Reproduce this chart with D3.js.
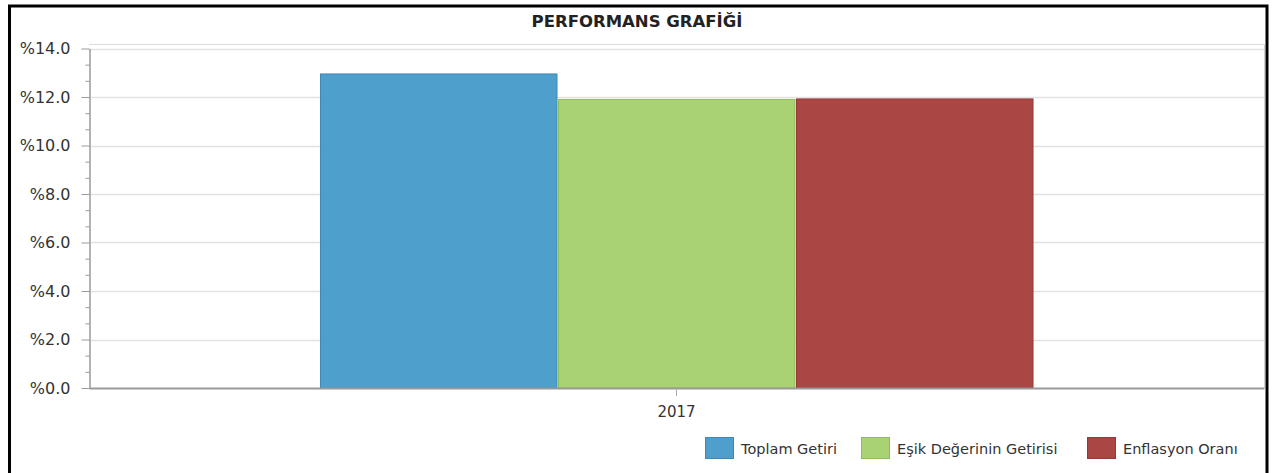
<!DOCTYPE html>
<html>
<head>
<meta charset="utf-8">
<script src="https://cdn.jsdelivr.net/npm/d3@7"></script>
<style>
  html, body { margin: 0; padding: 0; background: #fff; }
  svg { display: block; }
  text { font-family: "DejaVu Sans", Verdana, sans-serif; }
</style>
</head>
<body>
<svg id="chart" width="1279" height="473"></svg>
<script>
const title = "PERFORMANS GRAFİĞİ";
const categories = ["2017"];
const seriesNames = ["Toplam Getiri", "Eşik Değerinin Getirisi", "Enflasyon Oranı"];
const seriesColors = ["#4e9fcb", "#a9d273", "#aa4643"];
const seriesStrokes = ["#3f88b4", "#8fbb5c", "#933a37"];
const toplamGetiri = [12.95];
const esikDegeri = [11.90];
const enflasyon = [11.92];
const yTicks = [0, 2, 4, 6, 8, 10, 12, 14];

const series = [toplamGetiri, esikDegeri, enflasyon];

const svg = d3.select("#chart");
const plot = { left: 89, right: 1264, top: 44.5, bottom: 388 };

// outer frame
svg.append("rect")
  .attr("x", 9.5).attr("y", 6).attr("width", 1257.5).attr("height", 500)
  .attr("fill", "none").attr("stroke", "#000").attr("stroke-width", 3);

// title
svg.append("text")
  .attr("x", 637).attr("y", 27)
  .attr("text-anchor", "middle")
  .attr("font-size", 16.5).attr("font-weight", "bold")
  .attr("fill", "#222")
  .text(title);

const y = d3.scaleLinear().domain([0, 14]).range([plot.bottom, 48.5]);
const x0 = d3.scaleBand().domain(categories).range([plot.left, plot.right])
  .paddingInner(0).paddingOuter(0.3228);
const x1 = d3.scaleBand().domain(seriesNames).range([0, x0.bandwidth()]).padding(0);

// plot border top and right
svg.append("line").attr("x1", plot.left).attr("x2", plot.right)
  .attr("y1", plot.top).attr("y2", plot.top)
  .attr("stroke", "#dcdcdc").attr("stroke-width", 1);
svg.append("line").attr("x1", plot.right + 0.5).attr("x2", plot.right + 0.5)
  .attr("y1", plot.top).attr("y2", plot.bottom)
  .attr("stroke", "#cfcfcf").attr("stroke-width", 1);

// gridlines
svg.append("g").selectAll("line").data(yTicks.filter(d => d > 0)).join("line")
  .attr("x1", plot.left).attr("x2", plot.right)
  .attr("y1", d => Math.round(y(d)) + 0.5).attr("y2", d => Math.round(y(d)) + 0.5)
  .attr("stroke", "#e2e2e2").attr("stroke-width", 1.5);

// y axis with minor ticks
const minor = [];
for (let i = 0; i < yTicks.length - 1; i++) {
  const a = yTicks[i], b = yTicks[i + 1];
  minor.push(a + (b - a) / 3, a + 2 * (b - a) / 3);
}
const yAxis = d3.axisLeft(y).tickValues(yTicks).tickSize(8).tickSizeOuter(0).tickPadding(11)
  .tickFormat(d => "%" + d.toFixed(1));
const gy = svg.append("g").attr("transform", `translate(${plot.left + 0.5},0)`).call(yAxis);
gy.select(".domain").attr("stroke", "#9a9a9a").attr("stroke-width", 1.5);
gy.selectAll(".tick line").attr("stroke", "#9a9a9a");
gy.selectAll(".tick text").attr("font-size", 16).attr("fill", "#333")
  .attr("font-family", "DejaVu Sans, sans-serif");
const gyMinor = svg.append("g").attr("transform", `translate(${plot.left + 0.5},0)`)
  .call(d3.axisLeft(y).tickValues(minor).tickSize(4).tickSizeOuter(0).tickFormat(""));
gyMinor.select(".domain").remove();
gyMinor.selectAll(".tick line").attr("stroke", "#9a9a9a");

// bars
const groups = svg.append("g").selectAll("g").data(categories).join("g")
  .attr("transform", d => `translate(${x0(d)},0)`);
groups.selectAll("rect")
  .data((d, i) => seriesNames.map((s, k) => ({ s, k, v: series[k][i] })))
  .join("rect")
  .attr("x", d => x1(d.s) + 1)
  .attr("y", d => y(d.v))
  .attr("width", x1.bandwidth() - 1.5)
  .attr("height", d => plot.bottom - y(d.v))
  .attr("fill", d => seriesColors[d.k])
  .attr("stroke", d => seriesStrokes[d.k])
  .attr("stroke-width", 1);

// x axis
const xAxis = d3.axisBottom(x0).tickSize(8).tickSizeOuter(0).tickPadding(10);
const gx = svg.append("g").attr("transform", `translate(0,${plot.bottom})`).call(xAxis);
gx.select(".domain").attr("stroke", "#999").attr("stroke-width", 2);
gx.selectAll(".tick line").attr("stroke", "#aaa");
gx.selectAll(".tick text").attr("font-size", 15).attr("fill", "#333")
  .attr("font-family", "DejaVu Sans, sans-serif");

// legend
const legendX = [705, 861, 1087];
const lg = svg.append("g").selectAll("g").data(seriesNames).join("g")
  .attr("transform", (d, i) => `translate(${legendX[i]},437)`);
lg.append("rect").attr("x", 0.5).attr("y", 0.5).attr("width", 28).attr("height", 21)
  .attr("fill", (d, i) => seriesColors[i]).attr("stroke", (d, i) => seriesStrokes[i]);
lg.append("text").attr("x", 36).attr("y", 16.5)
  .attr("font-size", 14.5).attr("fill", "#333").text(d => d);
</script>
</body>
</html>
